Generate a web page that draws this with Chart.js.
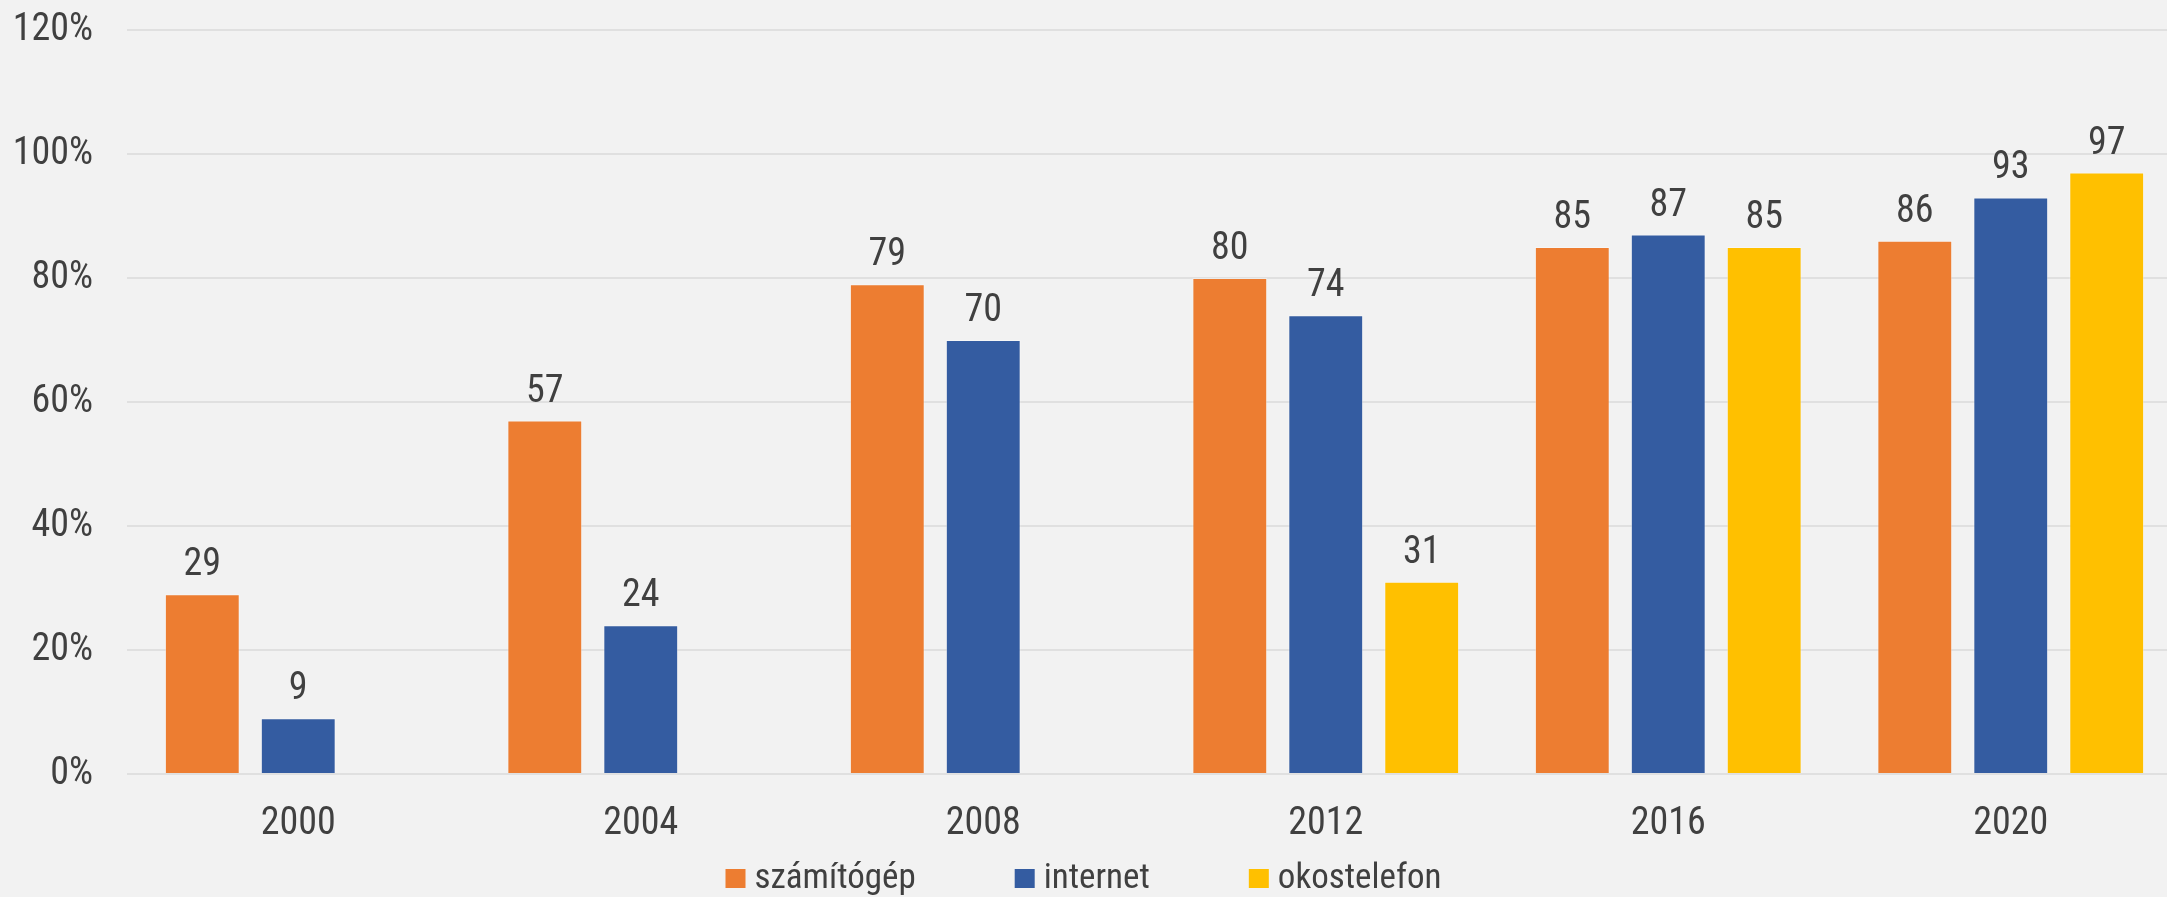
<!DOCTYPE html>
<html>
<head>
<meta charset="utf-8">
<script src="https://cdn.jsdelivr.net/npm/chart.js@4.4.0/dist/chart.umd.min.js"></script>
<style>
  html, body { margin: 0; padding: 0; background: #f2f2f2; overflow: hidden; }
  #wrap { position: relative; width: 2184px; height: 897px; }
</style>
</head>
<body>
<div id="wrap"><canvas id="myChart"></canvas></div>
<script>
const years = ["2000", "2004", "2008", "2012", "2016", "2020"];
const computer = [29, 57, 79, 80, 85, 86];
const internet = [9, 24, 70, 74, 87, 93];
const smartphone = [null, null, null, 31, 85, 97];
const seriesNames = ["számítógép", "internet", "okostelefon"];
const seriesColors = ["#ED7D31", "#345CA1", "#FFC000"];
const yTicks = [0, 20, 40, 60, 80, 100, 120];

const FONT = "'Roboto Condensed', 'Liberation Sans Narrow', sans-serif";
const TEXT = "#404040";

// value labels above each bar
const barLabels = {
  id: "barLabels",
  afterDatasetsDraw(chart) {
    const ctx = chart.ctx;
    ctx.save();
    ctx.font = "38px " + FONT;
    ctx.fillStyle = TEXT;
    ctx.textAlign = "center";
    ctx.textBaseline = "alphabetic";
    chart.data.datasets.forEach((ds, i) => {
      chart.getDatasetMeta(i).data.forEach((bar, j) => {
        if (ds.data[j] == null) return;
        ctx.fillText(String(ds.data[j]), bar.x, bar.y - 19);
      });
    });
    ctx.restore();
  },
};

// legend drawn by hand: small box, tight gap, wide spacing
const bottomLegend = {
  id: "bottomLegend",
  afterDraw(chart) {
    const ctx = chart.ctx;
    ctx.save();
    ctx.font = "35px " + FONT;
    const box = 20, gap = 9, spacing = 99;
    const items = chart.data.datasets.map((ds) => ({
      text: ds.label,
      color: ds.backgroundColor,
      w: box + gap + ctx.measureText(ds.label).width,
    }));
    const total = items.reduce((s, it) => s + it.w, 0) + spacing * (items.length - 1);
    let x = 2167 / 2 - total / 2;
    const y = 878;
    items.forEach((it) => {
      ctx.fillStyle = it.color;
      ctx.fillRect(x, y - 9, box, 19);
      ctx.fillStyle = TEXT;
      ctx.textAlign = "left";
      ctx.textBaseline = "middle";
      ctx.fillText(it.text, x + box + gap, y + 1);
      x += it.w + spacing;
    });
    ctx.restore();
  },
};

document.addEventListener("DOMContentLoaded", () => {
  const ctx = document.getElementById("myChart").getContext("2d");
  const mk = (i, data) => ({
    label: seriesNames[i],
    data: data,
    backgroundColor: seriesColors[i],
    borderColor: "rgba(255,255,255,0.35)",
    borderWidth: 1,
    categoryPercentage: 0.8405,
    barPercentage: 0.78,
  });

  new Chart(ctx, {
    type: "bar",
    data: {
      labels: years,
      datasets: [mk(0, computer), mk(1, internet), mk(2, smartphone)],
    },
    options: {
      responsive: true,
      maintainAspectRatio: false,
      animation: false,
      layout: { padding: { top: 30, right: 2, left: 0, bottom: 0 } },
      plugins: {
        legend: { display: false },
        tooltip: { enabled: false },
      },
      scales: {
        x: {
          grid: { display: false },
          border: { display: false },
          ticks: {
            color: TEXT,
            font: { family: FONT, size: 38 },
            padding: 20,
            maxRotation: 0,
          },
          afterFit: (scale) => { scale.height = 123; },
        },
        y: {
          min: 0,
          max: 120,
          afterBuildTicks: (scale) => {
            scale.ticks = yTicks.map((v) => ({ value: v }));
          },
          grid: { color: "#e0e0e0", lineWidth: 2, drawTicks: false },
          border: { display: false },
          ticks: {
            color: TEXT,
            font: { family: FONT, size: 38 },
            padding: 34,
            callback: (v) => v + "%",
          },
          afterFit: (scale) => {
            scale.width = 127;
            // top label may overflow the page edge, like the original
            scale.paddingTop = 0;
            scale.paddingBottom = 0;
          },
        },
      },
    },
    plugins: [barLabels, bottomLegend],
  });
});
</script>
</body>
</html>
